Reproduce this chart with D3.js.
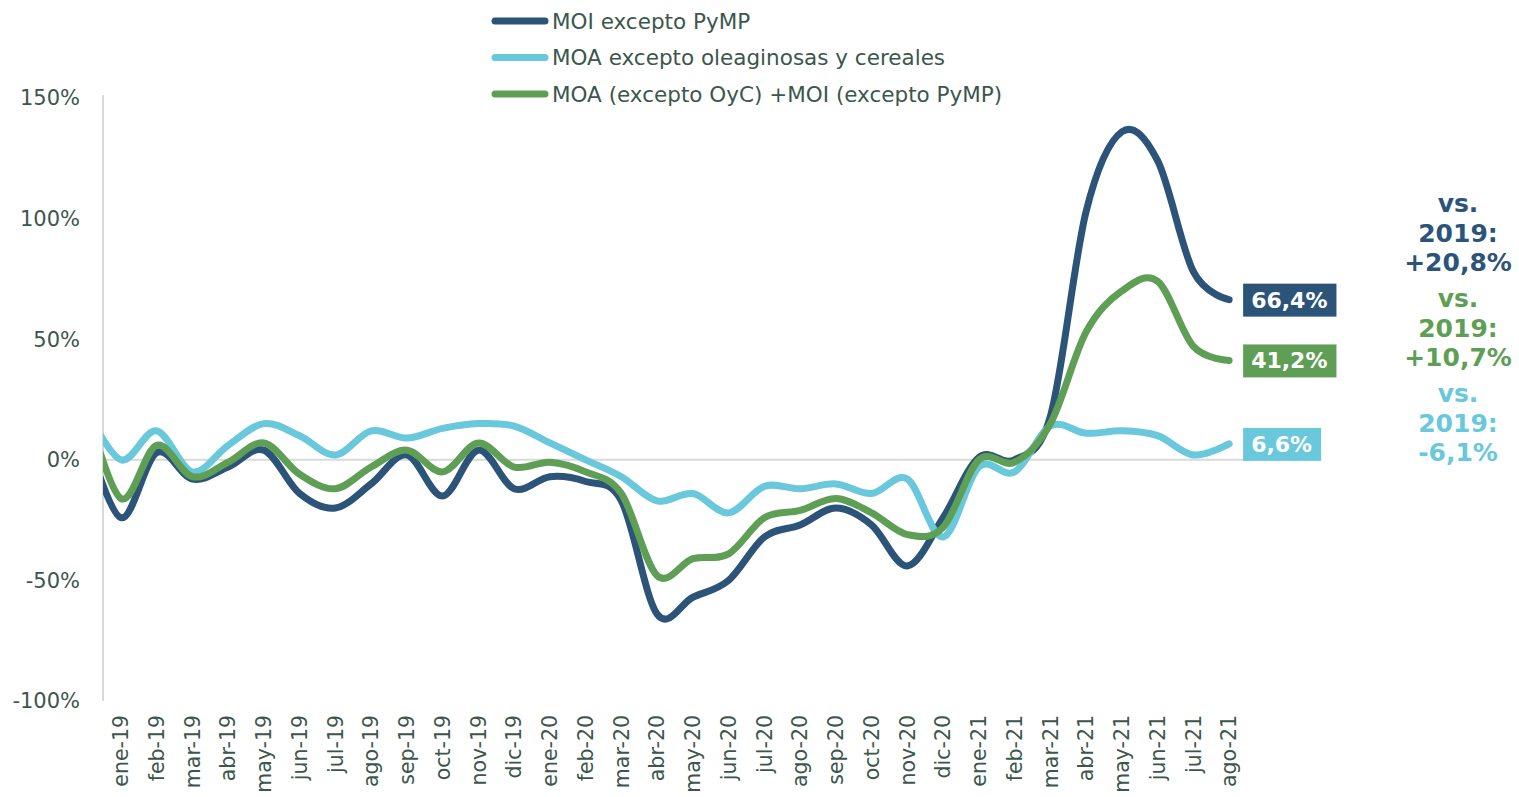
<!DOCTYPE html>
<html>
<head>
<meta charset="utf-8">
<script src="https://cdn.jsdelivr.net/npm/d3@7"></script>
<style>
    body { margin: 0; background: #fff; }
    svg { display: block; }
</style>
</head>
<body>
<svg id="chart" width="1519" height="797"></svg>
<script>
// months (dic-18 is only there so the lines run into the axis, its label is not shown)
var months = ["dic-18", "ene-19", "feb-19", "mar-19", "abr-19", "may-19", "jun-19", "jul-19", "ago-19",
    "sep-19", "oct-19", "nov-19", "dic-19", "ene-20", "feb-20", "mar-20", "abr-20", "may-20", "jun-20",
    "jul-20", "ago-20", "sep-20", "oct-20", "nov-20", "dic-20", "ene-21", "feb-21", "mar-21", "abr-21",
    "may-21", "jun-21", "jul-21", "ago-21"];

var moiValues = [12, -24, 3, -8, -3, 4, -14, -20, -10, 2, -15, 4, -12, -7, -9, -17, -64, -57, -50,
    -32, -27, -20, -27, -44, -24, 1, 0, 18, 103, 136, 124, 78, 66.4];
var moaValues = [22, 0, 12, -5, 6, 15, 10, 2, 12, 9, 13, 15, 14, 7, 0, -7, -17, -14, -22,
    -11, -12, -10, -14, -8, -32, -3, -5, 14, 11, 12, 10, 2, 6.6];
var sumValues = [24, -16, 6, -7, -1, 7, -6, -12, -3, 4, -5, 7, -3, -1, -5, -14, -48, -41, -39,
    -24, -21, -16, -22, -31, -28, 0, -1, 15, 53, 70, 74, 47, 41.2];

// same order as the series: MOI, MOA, MOA+MOI
var seriesNames = ["MOI excepto PyMP", "MOA excepto oleaginosas y cereales", "MOA (excepto OyC) +MOI (excepto PyMP)"];
var lastLabels = ["66,4%", "6,6%", "41,2%"];
var vsLabels = ["+20,8%", "-6,1%", "+10,7%"];
var yTicks = [-100, -50, 0, 50, 100, 150];

var colors = ["#2c5479", "#69c8db", "#5f9f55"];
var textColor = "#3b574d";
var font = "'DejaVu Sans', Verdana, sans-serif";

drawChart();

function drawChart() {
    var svg = d3.select("#chart");

    var left = 103, right = 1247, top = 98, bottom = 701;

    var x = d3.scaleLinear().domain([0.5, months.length - 0.5]).range([left, right]);
    var y = d3.scaleLinear().domain([-100, 150]).range([bottom, top]);

    svg.append("defs").append("clipPath").attr("id", "plot-clip")
      .append("rect")
        .attr("x", left).attr("y", 0)
        .attr("width", right - left).attr("height", 797);

    // zero line + left axis line
    svg.append("line")
        .attr("x1", left).attr("x2", right)
        .attr("y1", y(0)).attr("y2", y(0))
        .attr("stroke", "#d9d9d9").attr("stroke-width", 2);
    svg.append("line")
        .attr("x1", left).attr("x2", left)
        .attr("y1", y(150) - 3).attr("y2", y(-100))
        .attr("stroke", "#d9d9d9").attr("stroke-width", 2);

    // y labels
    svg.append("g").selectAll("text")
        .data(yTicks)
      .enter().append("text")
        .attr("x", 80)
        .attr("y", function (d) { return y(d); })
        .attr("dy", "0.35em")
        .attr("text-anchor", "end")
        .style("font", "21px " + font)
        .attr("fill", textColor)
        .text(function (d) { return d + "%"; });

    // x labels (rotated)
    var shown = months.map(function (m, i) { return { label: m, i: i }; })
        .filter(function (d) { return x(d.i) > left; });
    svg.append("g").selectAll("text")
        .data(shown)
      .enter().append("text")
        .attr("transform", function (d) { return "translate(" + x(d.i) + ",715) rotate(-90)"; })
        .attr("dy", "0.35em")
        .attr("text-anchor", "end")
        .style("font", "20.5px " + font)
        .attr("fill", textColor)
        .text(function (d) { return d.label; });

    // lines
    var line = d3.line()
        .curve(d3.curveCardinal.tension(0))
        .x(function (d, i) { return x(i); })
        .y(function (d) { return y(d); });

    var allSeries = [moiValues, moaValues, sumValues];
    svg.append("g")
        .attr("clip-path", "url(#plot-clip)")
      .selectAll("path")
        .data(allSeries)
      .enter().append("path")
        .attr("d", function (d) { return line(d); })
        .attr("fill", "none")
        .attr("stroke", function (d, i) { return colors[i]; })
        .attr("stroke-width", 7)
        .attr("stroke-linecap", "round")
        .attr("stroke-linejoin", "round");

    // end labels
    var last = months.length - 1;
    allSeries.forEach(function (values, i) {
        var cy = y(values[last]);
        var g = svg.append("g");
        var t = g.append("text")
            .attr("x", x(last) + 22)
            .attr("y", cy)
            .attr("dy", "0.36em")
            .style("font", "bold 22px " + font)
            .attr("fill", "#fff")
            .text(lastLabels[i]);
        var w = t.node().getComputedTextLength();
        g.insert("rect", "text")
            .attr("x", x(last) + 14)
            .attr("y", cy - 16)
            .attr("width", w + 17)
            .attr("height", 33)
            .attr("fill", colors[i]);
    });

    // vs. 2019 notes
    var noteTops = [203, 393, 298];
    allSeries.forEach(function (values, i) {
        var rows = ["vs.", "2019:", vsLabels[i]];
        svg.append("g").selectAll("text")
            .data(rows)
          .enter().append("text")
            .attr("x", 1458)
            .attr("y", function (d, k) { return noteTops[i] + k * 29.5; })
            .attr("dy", "0.36em")
            .attr("text-anchor", "middle")
            .style("font", "bold 25px " + font)
            .attr("fill", colors[i])
            .text(function (d) { return d; });
    });

    // legend
    var legend = svg.append("g").selectAll("g")
        .data(seriesNames)
      .enter().append("g")
        .attr("transform", function (d, i) { return "translate(0," + (21 + i * 36.5) + ")"; });
    legend.append("line")
        .attr("x1", 495).attr("x2", 545)
        .attr("stroke", function (d, i) { return colors[i]; })
        .attr("stroke-width", 7)
        .attr("stroke-linecap", "round");
    legend.append("text")
        .attr("x", 552)
        .attr("dy", "0.35em")
        .style("font", "21.5px " + font)
        .attr("fill", textColor)
        .text(function (d) { return d; });
}
</script>
</body>
</html>
